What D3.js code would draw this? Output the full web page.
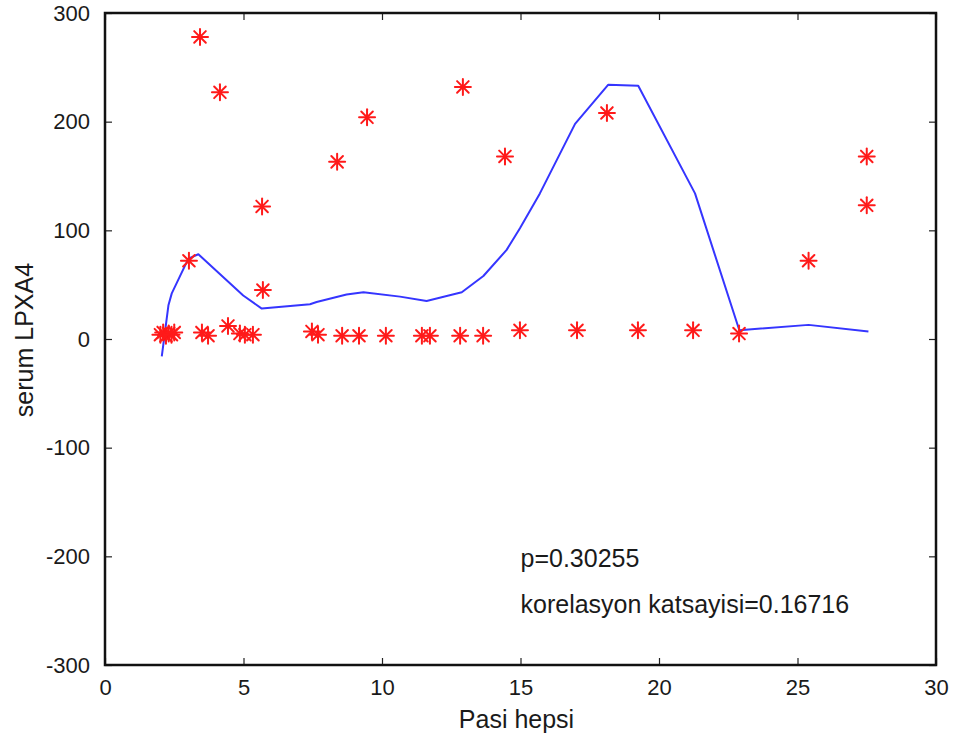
<!DOCTYPE html>
<html>
<head>
<meta charset="utf-8">
<script src="https://cdn.jsdelivr.net/npm/d3@7"></script>
<style>
  html, body { margin: 0; padding: 0; background: #fff; }
  svg { display: block; }
  text { font-family: "Liberation Sans", Arial, sans-serif; fill: #1a1a1a; }
</style>
</head>
<body>
<svg id="chart" width="956" height="745"></svg>
<script>
// ---- data ----
const pointX = [2.0, 2.1, 2.2, 2.3, 2.4, 2.5, 3.03, 3.43, 3.5, 3.72, 4.15, 4.44, 4.87, 5.05, 5.34, 5.67, 5.70,
                7.47, 7.69, 8.38, 8.56, 9.17, 9.46, 10.14, 11.44, 11.73, 12.82, 12.92, 13.65, 14.44, 14.98,
                17.04, 18.12, 19.24, 21.23, 22.89, 25.4, 27.5, 27.5];
const pointY = [4, 6, 3, 5, 4, 6, 72, 278, 6, 3, 227, 12, 5, 4, 4, 122, 45,
                7, 4, 163, 3, 3, 204, 3, 3, 3, 3, 232, 3, 168, 8,
                8, 208, 8, 8, 5, 72, 168, 123];
const fitX = [2.05, 2.29, 2.41, 3.01, 3.37, 4.99, 5.66, 7.4, 7.64, 8.72, 9.33, 10.65, 11.61, 12.88, 13.66,
              14.5, 14.98, 15.7, 16.97, 18.17, 19.25, 21.3, 22.9, 25.4, 27.56];
const fitY = [-16, 31, 42, 74, 78, 40, 28, 32, 34, 41, 43, 39, 35, 43, 58,
              82, 102, 134, 198, 234, 233, 134, 8, 13, 7];
const xTicks = [0, 5, 10, 15, 20, 25, 30];
const yTicks = [-300, -200, -100, 0, 100, 200, 300];
const annotations = ["p=0.30255", "korelasyon katsayisi=0.16716"];
const annotationPos = [[15, -210], [15, -252]];
const xLabel = "Pasi hepsi";
const yLabel = "serum LPXA4";

// ---- layout ----
const L = 105, R = 936, T = 13, B = 665;
const svg = d3.select("#chart");
const x = d3.scaleLinear().domain([0, 30]).range([L, R]);
const y = d3.scaleLinear().domain([-300, 300]).range([B, T]);
const fmt = d => String(d);

// fit line
const line = d3.line().x((d, i) => x(fitX[i])).y((d, i) => y(fitY[i]));
svg.append("path").datum(fitX).attr("d", line)
  .attr("fill", "none").attr("stroke", "#3535ff").attr("stroke-width", 2)
  .attr("stroke-linejoin", "round");

// asterisk markers
const g = svg.append("g").attr("stroke", "#ff1a1a").attr("stroke-width", 2).attr("stroke-linecap", "round");
pointX.forEach((px, i) => {
  const cx = x(px), cy = y(pointY[i]);
  const s = 8, d = 5.8;
  const m = g.append("g").attr("transform", `translate(${cx},${cy})`);
  m.append("line").attr("x1", -s).attr("x2", s).attr("y1", 0).attr("y2", 0);
  m.append("line").attr("x1", 0).attr("x2", 0).attr("y1", -s).attr("y2", s);
  m.append("line").attr("x1", -d).attr("x2", d).attr("y1", -d).attr("y2", d);
  m.append("line").attr("x1", -d).attr("x2", d).attr("y1", d).attr("y2", -d);
});

// axes
const tickLen = 7;
const axB = svg.append("g").attr("transform", `translate(0,${B})`)
  .call(d3.axisBottom(x).tickValues(xTicks).tickFormat(fmt).tickSizeInner(-tickLen).tickSizeOuter(0).tickPadding(14));
const axT = svg.append("g").attr("transform", `translate(0,${T})`)
  .call(d3.axisTop(x).tickValues(xTicks).tickSizeInner(-tickLen).tickSizeOuter(0).tickFormat(""));
const axL = svg.append("g").attr("transform", `translate(${L},0)`)
  .call(d3.axisLeft(y).tickValues(yTicks).tickFormat(fmt).tickSizeInner(-tickLen).tickSizeOuter(0).tickPadding(15));
const axR = svg.append("g").attr("transform", `translate(${R},0)`)
  .call(d3.axisRight(y).tickValues(yTicks).tickSizeInner(-tickLen).tickSizeOuter(0).tickFormat(""));
[axB, axT, axL, axR].forEach(a => {
  a.select(".domain").remove();
  a.selectAll(".tick line").attr("stroke", "#222").attr("stroke-width", 1.2);
  a.selectAll(".tick text").style("font-size", "22px").attr("fill", "#1a1a1a")
    .style("font-family", "'Liberation Sans', Arial, sans-serif");
});
axB.selectAll(".tick text").attr("dy", "0.71em");

// frame
svg.append("rect").attr("x", L).attr("y", T).attr("width", R - L).attr("height", B - T)
  .attr("fill", "none").attr("stroke", "#111").attr("stroke-width", 2.5);

// annotations
annotations.forEach((t, i) => {
  svg.append("text").attr("x", x(annotationPos[i][0])).attr("y", y(annotationPos[i][1]))
    .style("font-size", "25px").text(t);
});

// axis labels
svg.append("text").attr("x", (L + R) / 2 - 4).attr("y", 728).attr("text-anchor", "middle")
  .style("font-size", "25px").text(xLabel);
svg.append("text").attr("transform", `translate(33,340) rotate(-90)`).attr("text-anchor", "middle")
  .style("font-size", "25px").text(yLabel);
</script>
</body>
</html>
